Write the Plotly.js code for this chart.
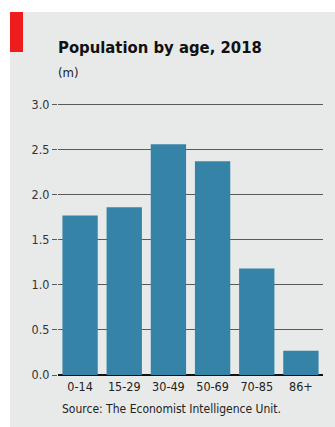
<!DOCTYPE html>
<html><head><meta charset="utf-8">
<script src="https://cdn.plot.ly/plotly-3.0.1.min.js"></script>
<style>html,body{margin:0;padding:0;background:#fff}#c{width:335px;height:427px}</style>
</head><body><div id="c"></div>
<script>
const categories = ["0-14","15-29","30-49","50-69","70-85","86+"];
const population = [1.77, 1.86, 2.56, 2.37, 1.18, 0.27];
const yTicks = [0, 0.5, 1.0, 1.5, 2.0, 2.5, 3.0];
const yTickLabels = ["0.0","0.5","1.0","1.5","2.0","2.5","3.0"];

const L = 58, R = 323, T = 100, B = 375, W = 335, H = 427;
const px = x => (x - L) / (R - L);
const py = y => (B - y) / (B - T);
const font = "Liberation Sans Narrow, DejaVu Sans Condensed, Roboto, sans-serif";

Plotly.newPlot("c", [{
  type: "bar", x: categories, y: population,
  marker: {color: "#3583a6"}, hoverinfo: "skip"
}], {
  width: W, height: H,
  margin: {l: L, r: W - R, t: T, b: H - B, pad: 0},
  paper_bgcolor: "#fff", plot_bgcolor: "rgba(0,0,0,0)",
  bargap: 0.2, showlegend: false,
  font: {family: font, color: "#333"},
  xaxis: {type: "category", showgrid: false, ticks: "", showline: false,
          tickfont: {size: 12.5, color: "#222"}, ticklabelstandoff: 2},
  yaxis: {range: [0, 3.05], tickvals: yTicks, ticktext: yTickLabels,
          showgrid: true, gridcolor: "#5a5a5a", gridwidth: 1,
          zeroline: true, zerolinecolor: "#111", zerolinewidth: 2,
          ticks: "outside", ticklen: 5, tickcolor: "#5a5a5a",
          tickfont: {size: 12.5, color: "#333"}, fixedrange: true},
  shapes: [
    {type: "rect", xref: "paper", yref: "paper", layer: "below",
     x0: px(10), x1: px(W + 5), y0: py(H + 5), y1: py(12),
     fillcolor: "#e7eae9", line: {width: 0}},
    {type: "rect", xref: "paper", yref: "paper", layer: "below",
     x0: px(10), x1: px(23), y0: py(52), y1: py(12),
     fillcolor: "#ee1c1c", line: {width: 0}}
  ],
  annotations: [
    {xref: "paper", yref: "paper", x: px(56), y: py(48), xanchor: "left", yanchor: "middle",
     text: "<b>Population by age, 2018</b>", showarrow: false,
     font: {family: "DejaVu Sans Condensed, Liberation Sans Narrow, sans-serif", size: 16.5, color: "#111"}},
    {xref: "paper", yref: "paper", x: px(56), y: py(72), xanchor: "left", yanchor: "middle",
     text: "(m)", showarrow: false, font: {family: font, size: 13, color: "#222"}},
    {xref: "paper", yref: "paper", x: px(171), y: py(409), xanchor: "center", yanchor: "middle",
     text: "Source: The Economist Intelligence Unit.", showarrow: false,
     font: {family: font, size: 12, color: "#222"}}
  ]
}, {displayModeBar: false, staticPlot: true});
</script></body></html>
